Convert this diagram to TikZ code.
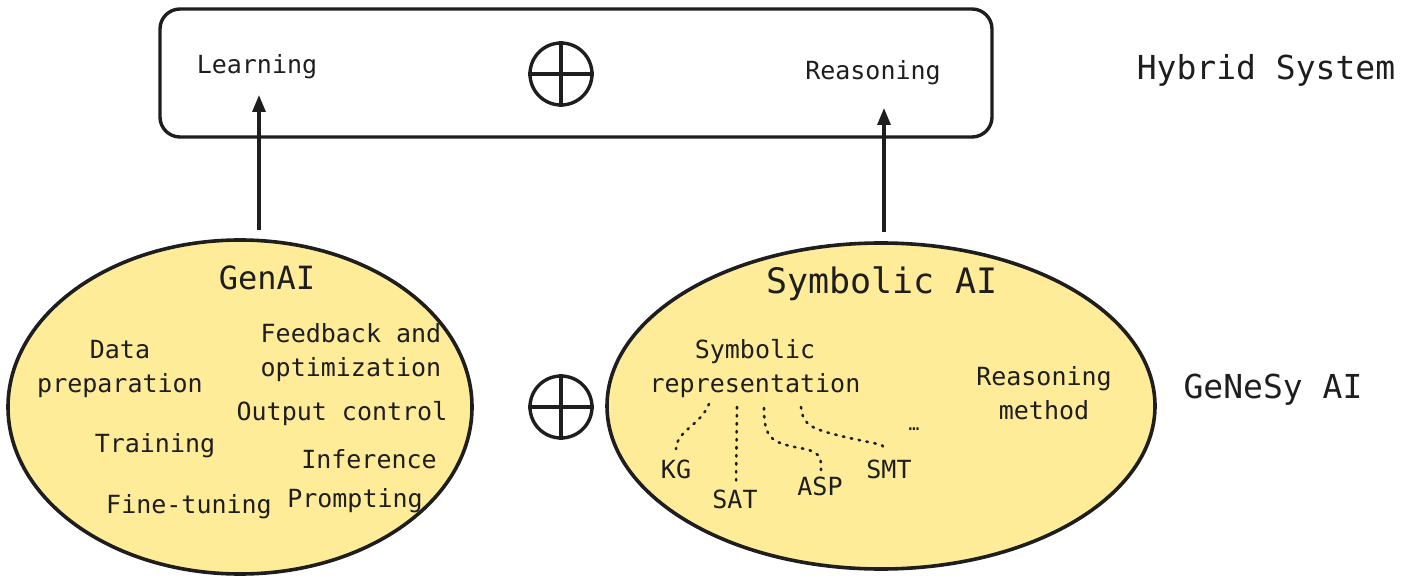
\documentclass[tikz,border=0pt]{standalone}
\usepackage{fontspec}
\setmainfont{DejaVu Sans Mono}
\usetikzlibrary{arrows.meta,shapes.geometric}
\definecolor{fillyel}{HTML}{FFEC99}
\definecolor{ink}{HTML}{1E1E1E}
\tikzset{
  blob/.style={ellipse, draw=ink, line width=3.6pt, fill=fillyel, inner sep=0pt},
  oplus/.style={circle, draw=ink, line width=3.4pt, minimum size=62pt, inner sep=0pt},
  txt/.style={text=ink, align=center, inner sep=0pt, font=\fontsize{25}{34}\selectfont},
  bigtxt/.style={text=ink, align=center, inner sep=0pt, font=\fontsize{33}{40}\selectfont},
  arr/.style={draw=ink, line width=3.2pt, -{Triangle[length=17pt,width=13pt]}},
  dots/.style={draw=ink, line width=2.6pt, line cap=round, dash pattern=on 1.5pt off 6.5pt},
}
\begin{document}
\begin{tikzpicture}[x=1pt,y=-1pt]
\useasboundingbox (0,0) rectangle (1405,585);

% Hybrid system box
\node[draw=ink, line width=3.4pt, rounded corners=20pt, minimum width=832pt, minimum height=128pt, inner sep=0pt] (hyb) at (576,73) {};
\node[txt] (learn) at (257,67) {Learning};
\node[txt] (reas) at (873,73) {Reasoning};
\node[oplus] (opT) at (561,74) {};
\draw[draw=ink, line width=3.4pt] (opT.north) -- (opT.south) (opT.west) -- (opT.east);
\node[bigtxt] (hybl) at (1266,70) {Hybrid System};

% Ellipses
\node[blob, minimum width=464pt, minimum height=334pt] (ellL) at (240,407) {};
\node[blob, minimum width=548pt, minimum height=326pt] (ellR) at (881,406) {};
\node[oplus] (opM) at (561,407) {};
\draw[draw=ink, line width=3.4pt] (opM.north) -- (opM.south) (opM.west) -- (opM.east);
\node[bigtxt] (gen) at (1273,390) {GeNeSy AI};

% Arrows
\coordinate (aL0) at (259,230);
\coordinate (aL1) at (259,95);
\coordinate (aR0) at (884,232);
\coordinate (aR1) at (884,108);
\draw[arr] (aL0) -- (aL1);
\draw[arr] (aR0) -- (aR1);

% GenAI contents
\node[text=ink, inner sep=0pt, font=\fontsize{32}{38}\selectfont] (genai) at (267,278) {GenAI};
\node[txt] (data) at (120,369) {Data\\preparation};
\node[txt] (feed) at (351,353) {Feedback and\\optimization};
\node[txt] (outc) at (342,414) {Output control};
\node[txt] (train) at (155,446) {Training};
\node[txt] (infer) at (369,459) {Inference};
\node[txt] (fine) at (189,507) {Fine-tuning};
\node[txt] (prompt) at (355,501) {Prompting};

% Symbolic AI contents
\node[text=ink, inner sep=0pt, font=\fontsize{35}{40}\selectfont] (symai) at (882,284) {Symbolic AI};
\node[txt] (symrep) at (755,369) {Symbolic\\representation};
\node[txt] (rmeth) at (1044,393) {Reasoning\\method};
\node[txt] (kg) at (676,469) {KG};
\node[txt] (sat) at (735,499) {SAT};
\node[txt] (asp) at (820,486) {ASP};
\node[txt] (smt) at (889,469) {SMT};
\node[text=ink, inner sep=0pt, font=\fontsize{18}{20}\selectfont] (ell) at (914,429) {…};

\coordinate (kg1) at (709,404);
\coordinate (kg2) at (676,449);
\coordinate (sat1) at (737,407);
\coordinate (sat2) at (736,485);
\coordinate (asp1) at (764,408);
\coordinate (asp2) at (821,470);
\coordinate (smt1) at (801,407);
\coordinate (smt2) at (884,448);
\draw[dots] (kg1) .. controls (700,426) and (677,430) .. (kg2);
\draw[dots] (sat1) -- (sat2);
\draw[dots] (asp1) .. controls (764,440) and (772,443) .. (805,449) .. controls (822,453) and (821,460) .. (asp2);
\draw[dots] (smt1) .. controls (803,426) and (812,429) .. (845,437) .. controls (876,444) and (884,444) .. (smt2);
\end{tikzpicture}
\end{document}
